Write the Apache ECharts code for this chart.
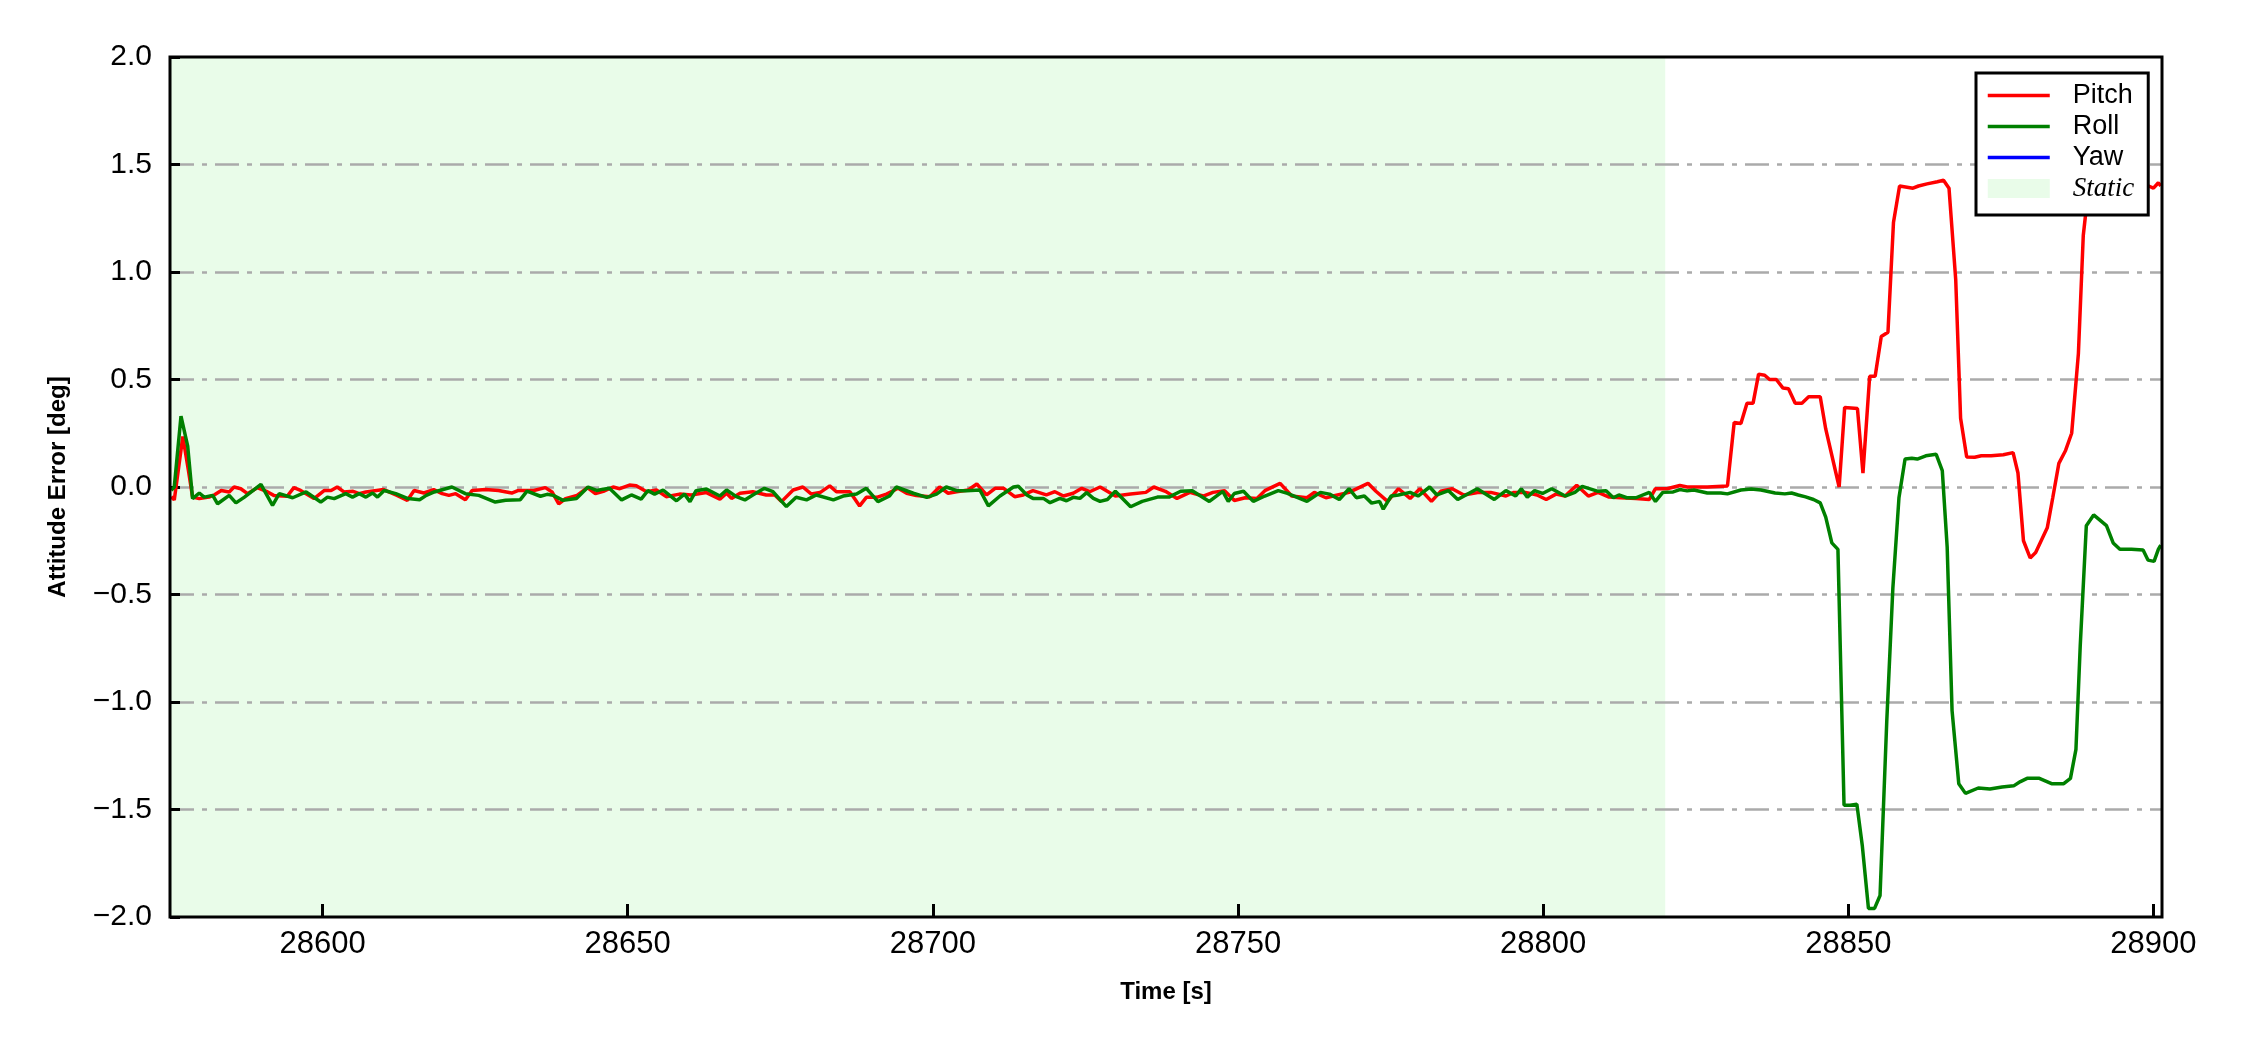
<!DOCTYPE html>
<html>
<head>
<meta charset="utf-8">
<title>Attitude Error</title>
<script src="https://cdn.jsdelivr.net/npm/echarts@6/dist/echarts.min.js"></script>
<style>
    html, body { margin: 0; padding: 0; background: #fff; }
    #chart1 { width: 2250px; height: 1050px; }
</style>
</head>
<body>
<div id="chart1"></div>
<script>
    // ---- data ----
    var xTicks = [28600, 28650, 28700, 28750, 28800, 28850, 28900];
    var xMin = 28575, xMax = 28901.4;
    var staticStart = 28575, staticEnd = 28820;

    var pitchTime = [
        28575.2, 28575.7, 28577.1, 28578.0, 28578.7, 28579.8, 28581.4, 28582.3, 28583.4, 28584.7,
        28585.5, 28586.6, 28587.7, 28589.3, 28591.0, 28592.0, 28594.2, 28595.3, 28596.4, 28598.6,
        28600.3, 28601.4, 28602.4, 28603.5, 28605.0, 28606.0, 28607.1, 28610.0, 28612.2, 28613.9,
        28615.0, 28616.6, 28618.2, 28619.6, 28620.7, 28621.8, 28623.4, 28624.5, 28626.7, 28628.8,
        28631.0, 28632.1, 28634.6, 28636.5, 28637.6, 28638.7, 28639.8, 28641.7, 28643.4, 28644.7,
        28646.0, 28647.6, 28648.7, 28650.3, 28651.4, 28653.1, 28654.7, 28656.3, 28658.5, 28660.4,
        28662.9, 28665.1, 28666.2, 28667.0, 28668.4, 28670.5, 28672.7, 28674.1, 28675.2, 28677.1,
        28678.7, 28680.1, 28681.5, 28683.1, 28684.2, 28686.4, 28688.0, 28689.1, 28690.8, 28692.4,
        28694.3, 28695.7, 28697.3, 28699.5, 28701.1, 28702.5, 28703.9, 28705.8, 28707.2, 28708.8,
        28710.2, 28711.6, 28713.4, 28714.8, 28716.4, 28718.6, 28720.0, 28721.4, 28723.0, 28724.4,
        28725.7, 28727.4, 28729.9, 28732.4, 28734.9, 28736.2, 28738.1, 28740.0, 28742.1, 28744.3,
        28745.9, 28747.8, 28749.4, 28751.2, 28753.1, 28754.4, 28756.9, 28758.8, 28761.3, 28762.5,
        28764.4, 28766.3, 28768.2, 28771.3, 28772.6, 28774.5, 28776.3, 28778.2, 28779.8, 28781.7,
        28783.2, 28785.1, 28787.0, 28789.5, 28791.4, 28793.9, 28795.2, 28797.1, 28799.0, 28800.5,
        28802.1, 28803.6, 28805.5, 28807.4, 28809.0, 28810.8, 28812.7, 28815.2, 28817.4, 28818.4,
        28820.3, 28822.4, 28823.6, 28826.9, 28830.2, 28831.3, 28832.4, 28833.4, 28834.4, 28835.3,
        28836.3, 28837.1, 28838.2, 28839.3, 28840.2, 28841.3, 28842.4, 28843.5, 28845.4, 28846.3,
        28848.5, 28849.4, 28851.5, 28852.4, 28853.5, 28854.4, 28855.4, 28856.5, 28857.4, 28858.4,
        28860.6, 28861.5, 28862.9, 28864.6, 28865.6, 28866.5, 28867.6, 28868.4, 28869.4, 28870.7,
        28871.8, 28873.4, 28875.4, 28877.0, 28877.8, 28878.7, 28879.8, 28880.7, 28881.6, 28882.6,
        28883.5, 28884.5, 28885.6, 28886.6, 28887.7, 28888.5, 28889.4, 28891.0, 28893.0, 28895.0,
        28897.0, 28899.2, 28900.0, 28900.8, 28901.2
    ];
    var pitchErr = [
        -0.045, -0.06, 0.235, 0.08, -0.047, -0.054, -0.047, -0.036, -0.016, -0.023,
        0.0, -0.008, -0.031, -0.003, -0.023, -0.039, -0.043, -0.003, -0.016, -0.054,
        -0.016, -0.016, 0.0, -0.023, -0.02, -0.031, -0.023, -0.012, -0.039, -0.062,
        -0.016, -0.028, -0.012, -0.031, -0.039, -0.031, -0.059, -0.016, -0.012, -0.016,
        -0.028, -0.016, -0.016, -0.003, -0.023, -0.078, -0.054, -0.039, -0.003, -0.031,
        -0.02, 0.0, -0.008, 0.009, 0.006, -0.022, -0.014, -0.045, -0.033, -0.037,
        -0.026, -0.057, -0.029, -0.053, -0.029, -0.022, -0.037, -0.037, -0.068, -0.014,
        0.0, -0.033, -0.026, 0.005, -0.022, -0.022, -0.088, -0.048, -0.048, -0.033,
        -0.006, -0.029, -0.04, -0.045, 0.0, -0.029, -0.022, -0.014, 0.014, -0.037,
        -0.006, -0.006, -0.045, -0.037, -0.017, -0.037, -0.022, -0.042, -0.029, -0.006,
        -0.022, 0.0, -0.042, -0.033, -0.025, 0.0, -0.02, -0.053, -0.025, -0.042,
        -0.025, -0.017, -0.063, -0.05, -0.053, -0.017, 0.017, -0.042, -0.05, -0.025,
        -0.05, -0.037, -0.025, 0.017, -0.02, -0.067, -0.008, -0.053, -0.008, -0.067,
        -0.02, -0.008, -0.037, -0.025, -0.025, -0.042, -0.025, -0.025, -0.037, -0.058,
        -0.033, -0.042, 0.008, -0.042, -0.025, -0.047, -0.05, -0.053, -0.058, -0.008,
        -0.008, 0.007, 0.0, 0.0, 0.005, 0.30, 0.295, 0.39, 0.39, 0.525,
        0.52, 0.50, 0.50, 0.46, 0.457, 0.39, 0.39, 0.42, 0.42, 0.27,
        0.0, 0.37, 0.365, 0.065, 0.515, 0.515, 0.70, 0.72, 1.23, 1.40,
        1.39, 1.40, 1.41, 1.42, 1.427, 1.39, 0.965, 0.32, 0.14, 0.138,
        0.145, 0.145, 0.15, 0.16, 0.065, -0.25, -0.33, -0.305, -0.25, -0.19,
        -0.05, 0.11, 0.17, 0.25, 0.62, 1.17, 1.40, 1.42, 1.43, 1.42,
        1.41, 1.40, 1.39, 1.415, 1.40
    ];

    var rollTime = [
        28575.2, 28575.7, 28576.8, 28577.9, 28578.7, 28579.8, 28580.6, 28582.0, 28582.8, 28584.7,
        28585.8, 28587.2, 28589.9, 28591.8, 28592.9, 28595.1, 28597.3, 28599.7, 28600.8, 28601.9,
        28603.8, 28604.9, 28606.0, 28607.1, 28608.2, 28609.0, 28610.1, 28612.0, 28614.0, 28615.9,
        28617.0, 28618.3, 28621.2, 28623.4, 28625.6, 28628.3, 28630.0, 28632.4, 28633.5, 28635.7,
        28636.8, 28637.8, 28639.4, 28641.6, 28643.5, 28644.9, 28646.0, 28647.0, 28649.0, 28650.6,
        28652.2, 28653.3, 28654.4, 28655.8, 28658.0, 28659.3, 28660.2, 28661.2, 28662.9, 28665.1,
        28666.2, 28667.8, 28669.2, 28670.5, 28672.4, 28673.8, 28676.0, 28677.6, 28679.3, 28680.9,
        28683.7, 28685.3, 28687.5, 28689.1, 28691.0, 28692.9, 28694.0, 28696.8, 28699.0, 28700.6,
        28702.2, 28703.9, 28705.5, 28707.7, 28709.1, 28711.0, 28713.2, 28714.0, 28715.4, 28716.4,
        28718.1, 28719.2, 28720.8, 28721.9, 28723.0, 28724.1, 28725.2, 28726.3, 28727.4, 28728.6,
        28729.9, 28732.4, 28734.3, 28736.8, 28738.7, 28740.6, 28742.5, 28745.3, 28747.5, 28748.4,
        28749.4, 28750.9, 28752.5, 28754.4, 28756.6, 28758.1, 28761.3, 28763.5, 28765.0, 28766.6,
        28768.2, 28769.4, 28770.7, 28771.9, 28773.2, 28773.8, 28775.1, 28776.3, 28778.2, 28779.5,
        28781.4, 28782.6, 28784.5, 28786.0, 28789.2, 28792.0, 28793.9, 28795.5, 28796.4, 28797.4,
        28798.6, 28799.9, 28801.4, 28803.6, 28805.2, 28806.4, 28809.0, 28810.3, 28811.5, 28812.4,
        28813.7, 28815.2, 28817.4, 28818.4, 28819.6, 28821.3, 28822.4, 28823.6, 28824.7, 28826.9,
        28829.1, 28830.2, 28832.4, 28834.1, 28835.7, 28838.0, 28839.6, 28840.7, 28841.8, 28843.0,
        28844.3, 28845.4, 28846.3, 28847.3, 28848.3, 28849.3, 28850.3, 28851.4, 28852.3, 28853.3,
        28854.3, 28855.2, 28856.3, 28857.3, 28858.3, 28859.3, 28860.4, 28861.3, 28862.7, 28864.4,
        28865.4, 28866.2, 28867.0, 28868.1, 28869.2, 28871.3, 28873.2, 28875.2, 28877.1, 28878.2,
        28879.3, 28881.3, 28883.3, 28885.3, 28886.4, 28887.3, 28888.0, 28889.0, 28890.2, 28892.3,
        28893.4, 28894.5, 28896.4, 28898.3, 28899.1, 28900.1, 28900.8, 28901.2
    ];
    var rollErr = [
        -0.015, 0.0, 0.33, 0.19, -0.054, -0.028, -0.047, -0.039, -0.078, -0.039,
        -0.074, -0.047, 0.012, -0.085, -0.031, -0.05, -0.023, -0.07, -0.047, -0.054,
        -0.031, -0.047, -0.031, -0.047, -0.028, -0.047, -0.016, -0.031, -0.054, -0.059,
        -0.039, -0.023, 0.0, -0.031, -0.039, -0.07, -0.062, -0.059, -0.019, -0.043,
        -0.034, -0.039, -0.062, -0.054, 0.0, -0.016, -0.01, -0.006, -0.06, -0.037,
        -0.056, -0.017, -0.033, -0.014, -0.064, -0.033, -0.068, -0.017, -0.009, -0.042,
        -0.014, -0.045, -0.06, -0.037, -0.006, -0.022, -0.091, -0.048, -0.06, -0.037,
        -0.06, -0.042, -0.033, -0.006, -0.068, -0.042, 0.0, -0.029, -0.048, -0.033,
        0.0, -0.017, -0.017, -0.014, -0.088, -0.042, 0.0, 0.003, -0.037, -0.053,
        -0.053, -0.073, -0.053, -0.064, -0.048, -0.053, -0.026, -0.053, -0.067, -0.058,
        -0.02, -0.092, -0.067, -0.047, -0.047, -0.02, -0.017, -0.067, -0.02, -0.067,
        -0.03, -0.02, -0.067, -0.042, -0.017, -0.03, -0.067, -0.025, -0.033, -0.058,
        -0.008, -0.05, -0.042, -0.075, -0.067, -0.103, -0.042, -0.037, -0.025, -0.042,
        0.0, -0.037, -0.017, -0.058, -0.008, -0.058, -0.017, -0.042, -0.008, -0.047,
        -0.017, -0.03, -0.008, -0.042, -0.025, 0.003, -0.02, -0.017, -0.05, -0.037,
        -0.05, -0.05, -0.025, -0.067, -0.025, -0.023, -0.012, -0.018, -0.014, -0.028,
        -0.028, -0.032, -0.014, -0.009, -0.014, -0.028, -0.032, -0.028, -0.037, -0.046,
        -0.058, -0.074, -0.14, -0.26, -0.29, -1.48, -1.48, -1.475, -1.67, -1.96,
        -1.96, -1.90, -1.09, -0.47, -0.05, 0.13, 0.134, 0.13, 0.145, 0.152,
        0.076, -0.28, -1.04, -1.38, -1.425, -1.40, -1.405, -1.395, -1.39, -1.37,
        -1.355, -1.355, -1.38, -1.38, -1.355, -1.22, -0.74, -0.18, -0.13, -0.18,
        -0.26, -0.29, -0.29, -0.293, -0.34, -0.346, -0.29, -0.27
    ];
    var yawTime = [];
    var yawErr = [];

    function pairs(t, v) {
        return t.map(function (x, i) { return [x, v[i]]; });
    }

    var chart1 = echarts.init(document.getElementById('chart1'));
    var font = 'Liberation Sans, Arial, sans-serif';
    // hide the symbol ECharts puts on line legend icons
    var noMarker = {color: 'rgba(0,0,0,0)', borderColor: 'rgba(0,0,0,0)', borderWidth: 0};

    var option = {
        animation: false,
        backgroundColor: '#fff',
        grid: {
            left: 170,
            right: 88,
            top: 57,
            bottom: 133,
            show: true,
            borderColor: '#000',
            borderWidth: 3,
            backgroundColor: 'transparent',
            z: 5
        },
        legend: {
            orient: 'vertical',
            left: 1976,
            top: 73,
            padding: [9, 14, 13, 10],
            itemGap: 4,
            itemWidth: 62,
            itemHeight: 19,
            backgroundColor: '#fff',
            borderColor: '#000',
            borderWidth: 3,
            borderRadius: 0,
            z: 10,
            lineStyle: {width: 3.5},
            textStyle: {
                fontFamily: font,
                fontSize: 27,
                lineHeight: 27,
                color: '#000',
                padding: [0, 0, 0, 18]
            },
            data: [
                {name: 'Pitch', itemStyle: noMarker},
                {name: 'Roll', itemStyle: noMarker},
                {name: 'Yaw', itemStyle: noMarker},
                {
                    name: 'Static', icon: 'rect',
                    itemStyle: {color: '#e9fce9'},
                    textStyle: {fontFamily: 'Liberation Serif, Times New Roman, serif', fontStyle: 'italic', fontSize: 27}
                }
            ]
        },
        xAxis: {
            type: 'value',
            min: xMin,
            max: xMax,
            name: 'Time [s]',
            nameLocation: 'middle',
            nameGap: 63,
            nameTextStyle: {fontFamily: font, fontSize: 24, fontWeight: 'bold', color: '#000'},
            axisLine: {show: false, onZero: false},
            axisTick: {
                show: true, inside: true, length: 13, customValues: xTicks,
                lineStyle: {color: '#000', width: 3}
            },
            axisLabel: {
                show: true, customValues: xTicks, margin: 12,
                fontFamily: font, fontSize: 31, color: '#000',
                formatter: function (v) { return String(v); }
            },
            splitLine: {show: false}
        },
        yAxis: {
            type: 'value',
            min: -2,
            max: 2,
            interval: 0.5,
            name: 'Attitude Error [deg]',
            nameLocation: 'middle',
            nameGap: 100,
            nameTextStyle: {fontFamily: font, fontSize: 24, fontWeight: 'bold', color: '#000'},
            axisLine: {show: false, onZero: false},
            axisTick: {show: true, inside: true, length: 10, lineStyle: {color: '#000', width: 3}},
            axisLabel: {
                margin: 18, fontFamily: font, fontSize: 30, color: '#000',
                formatter: function (v) {
                    return (v < 0 ? '\u2212' : '') + Math.abs(v).toFixed(1);
                }
            },
            splitLine: {
                show: true,
                showMinLine: false,
                showMaxLine: false,
                lineStyle: {color: '#aaaaaa', width: 2.5, type: [24, 8, 5, 8]}
            }
        },
        series: [
            {
                name: 'Static',
                type: 'line',
                data: [],
                z: -1,
                itemStyle: {color: '#e9fce9'},
                markArea: {
                    silent: true,
                    z: -1,
                    itemStyle: {color: '#e9fce9'},
                    data: [[{xAxis: staticStart}, {xAxis: staticEnd}]]
                }
            },
            {
                name: 'Pitch',
                type: 'line',
                data: pairs(pitchTime, pitchErr),
                showSymbol: false,
                symbol: 'none',
                z: 3,
                itemStyle: {color: '#ff0000'},
                lineStyle: {color: '#ff0000', width: 3.5}
            },
            {
                name: 'Roll',
                type: 'line',
                data: pairs(rollTime, rollErr),
                showSymbol: false,
                symbol: 'none',
                z: 4,
                itemStyle: {color: '#008000'},
                lineStyle: {color: '#008000', width: 3.5}
            },
            {
                name: 'Yaw',
                type: 'line',
                data: pairs(yawTime, yawErr),
                showSymbol: false,
                symbol: 'none',
                z: 2,
                itemStyle: {color: '#0000ff'},
                lineStyle: {color: '#0000ff', width: 3.5}
            }
        ]
    };

    chart1.setOption(option);
    window.addEventListener('resize', function () {
        chart1.resize();
    });
</script>
</body>
</html>
